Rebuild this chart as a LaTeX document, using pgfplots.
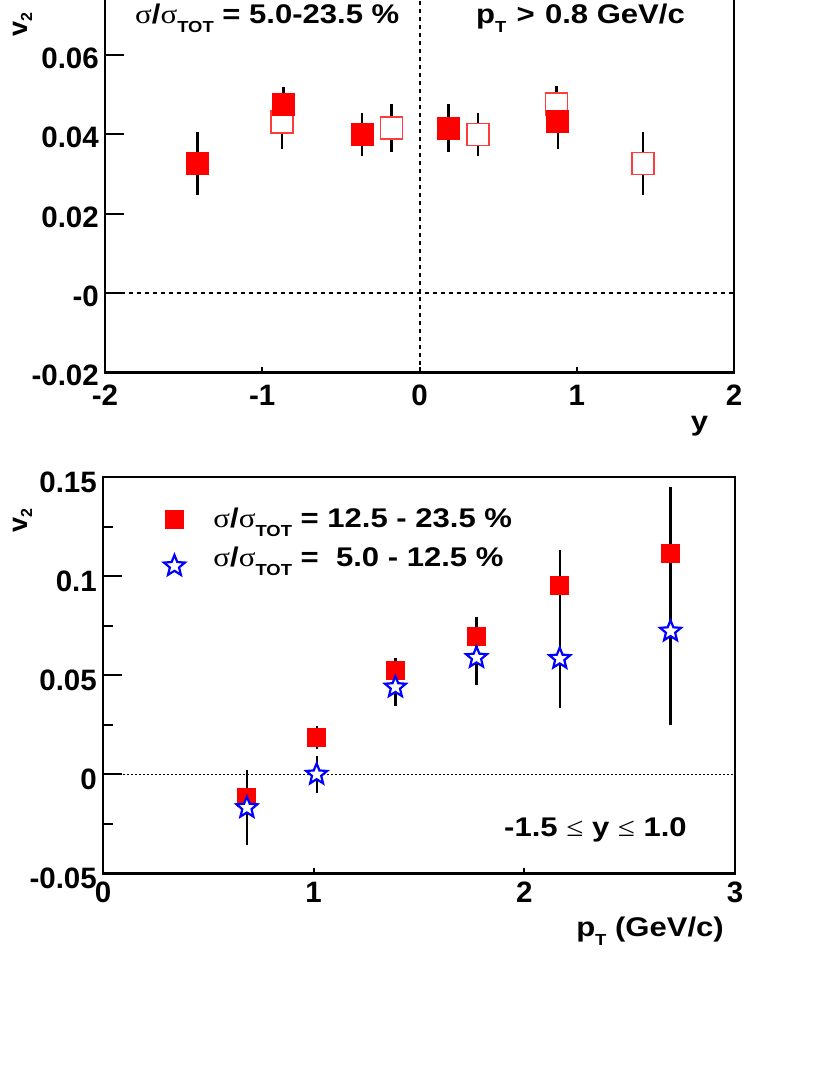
\documentclass[border=0pt]{standalone}
\usepackage{graphicx}
\usepackage{pgfplots}
\pgfplotsset{compat=1.18}
\usepackage{fontspec}
\setmainfont{Liberation Sans}
\newfontfamily\symf{Liberation Serif}
\newcommand\tk{\fontsize{29.5}{30}\selectfont\bfseries}
\newcommand\tx{\fontsize{27}{28}\selectfont\bfseries}
\newcommand\sg{{\symf\mdseries σ}}
\newcommand\lesym{{\symf\mdseries ≤}}
\newcommand\sub[2][9pt]{\raisebox{-#1}{\fontsize{16}{16}\selectfont\bfseries #2}}
\newcommand\wide[1]{\scalebox{1.15}[1]{#1}}
\definecolor{openred}{RGB}{255,60,60}
\pgfdeclareplotmark{ostar}{%
  \pgfpathmoveto{\pgfpointpolar{90}{\pgfplotmarksize}}%
  \pgfpathlineto{\pgfpointpolar{126}{0.44\pgfplotmarksize}}%
  \pgfpathlineto{\pgfpointpolar{162}{\pgfplotmarksize}}%
  \pgfpathlineto{\pgfpointpolar{198}{0.44\pgfplotmarksize}}%
  \pgfpathlineto{\pgfpointpolar{234}{\pgfplotmarksize}}%
  \pgfpathlineto{\pgfpointpolar{270}{0.44\pgfplotmarksize}}%
  \pgfpathlineto{\pgfpointpolar{306}{\pgfplotmarksize}}%
  \pgfpathlineto{\pgfpointpolar{342}{0.44\pgfplotmarksize}}%
  \pgfpathlineto{\pgfpointpolar{18}{\pgfplotmarksize}}%
  \pgfpathlineto{\pgfpointpolar{54}{0.44\pgfplotmarksize}}%
  \pgfpathclose
  \pgfusepathqfillstroke
}
\pgfplotsset{
  ebars/.style={/pgfplots/error bars/y dir=both, /pgfplots/error bars/y explicit,
    /pgfplots/error bars/error mark=none,
    /pgfplots/error bars/error bar style={line width=2.2pt, black}},
  legsq/.style={legend image code/.code={\path[draw=none,fill=none] (0pt,-19.5pt) rectangle (48pt,19.5pt);
    \draw[##1] plot coordinates {(9pt,8pt)};}},
  legst/.style={legend image code/.code={\path[draw=none,fill=none] (0pt,-19.5pt) rectangle (48pt,19.5pt);
    \draw[##1] plot coordinates {(9pt,1pt)};}},
}
\begin{document}
\begin{tikzpicture}
% ================= TOP PANEL =================
\begin{axis}[at={(105pt,702.3pt)}, anchor=south west, scale only axis,
  width=629pt, height=397pt,
  xmin=-2, xmax=2, ymin=-0.02, ymax=0.08,
  axis line style={line width=2.7pt},
  xtick=\empty,
  ytick={-0.02,0,0.02,0.04,0.06},
  yticklabels={-0.02,-0,0.02,0.04,0.06},
  ytick pos=left, tick align=inside,
  major tick length=19pt, major tick style={line width=2pt, black},
  yticklabel style={font=\tk, anchor=east, inner sep=0pt, xshift=-6pt, yshift=-3pt}]
\addplot[black, line width=2pt, dash pattern=on 4pt off 4pt, forget plot] coordinates {(-2,0) (2,0)};
\addplot[black, line width=2pt, dash pattern=on 4pt off 4pt, forget plot] coordinates {(0,-0.02) (0,0.08)};
% open (reflected) points
\addplot[only marks, mark=square*, mark size=11pt,
  mark options={draw=openred, fill=white, line width=1.8pt}, ebars]
  coordinates {(-0.872,0.0432) +- (0,0.0068) (-0.178,0.0416) +- (0,0.006)
    (0.370,0.0400) +- (0,0.0055) (0.871,0.0476) +- (0,0.0045) (1.420,0.0327) +- (0,0.008)};
% filled points
\addplot[only marks, mark=square*, mark size=11pt,
  mark options={draw=red, fill=red, line width=0pt}, ebars]
  coordinates {(-1.412,0.0327) +- (0,0.008) (-0.865,0.0475) +- (0,0.0045)
    (-0.365,0.0400) +- (0,0.0055) (0.184,0.0416) +- (0,0.006) (0.879,0.0432) +- (0,0.0068)};
\end{axis}
\begin{axis}[at={(105pt,702.3pt)}, anchor=south west, scale only axis,
  width=629pt, height=397pt,
  xmin=-2, xmax=2, ymin=-0.02, ymax=0.08,
  axis line style={draw=none}, ytick=\empty,
  xtick={-2,-1,0,1,2}, xticklabels={-2,-1,0,1,2},
  xtick pos=bottom, tick align=inside,
  major tick length=6pt, major tick style={line width=2pt, black},
  xticklabel style={font=\tk, anchor=north, inner sep=0pt, yshift=-12pt}]
\end{axis}
\node[anchor=base west, font=\tx, inner sep=0pt] at (135pt,1051pt) {\wide{\sg/\sg\sub{TOT} = 5.0-23.5 \%}};
\node[anchor=base west, font=\tx, inner sep=0pt] at (476pt,1051pt) {\wide{p\sub{T}\hspace{0.33em}{>}\hspace{0.33em}0.8 GeV/c}};
\node[anchor=base east, rotate=90, font=\tx, inner sep=0pt] at (27pt,1063pt) {v\sub[5pt]{2}};
\node[anchor=base, font=\tx, inner sep=0pt] at (699.5pt,644pt) {\wide{y}};
% ================= BOTTOM PANEL =================
\begin{axis}[at={(103pt,201.5pt)}, anchor=south west, scale only axis,
  width=632pt, height=396.5pt,
  xmin=0, xmax=3, ymin=-0.05, ymax=0.15,
  axis line style={line width=2.7pt},
  xtick=\empty,
  ytick={-0.05,0,0.05,0.1,0.15},
  yticklabels={-0.05,0,0.05,0.1,0.15},
  minor ytick={-0.025,0.025,0.075,0.125},
  ytick pos=left, tick align=inside,
  major tick length=19pt, minor tick length=10pt,
  major tick style={line width=2pt, black}, minor tick style={line width=2pt, black},
  yticklabel style={font=\tk, anchor=east, inner sep=0pt, xshift=-6pt, yshift=-5pt},
  legend style={at={(0.0965,0.9206)}, anchor=north west, draw=none, fill=none,
    inner sep=0pt, outer sep=0pt, row sep=0pt, column sep=0pt, font=\tx,
    nodes={inner sep=0pt, outer sep=0pt, text height=10pt, text depth=3pt},
    cells={anchor=base west}}]
\addplot[black, line width=1.6pt, dash pattern=on 2pt off 2pt, forget plot] coordinates {(0,0) (3,0)};
\addplot[forget plot, only marks, mark=square*, mark size=9pt,
  mark options={draw=red, fill=red, line width=0pt}, ebars]
  coordinates {(0.683,-0.0119) +- (0,0.014) (1.014,0.0186) +- (0,0.006)
    (1.388,0.0524) +- (0,0.0065) (1.773,0.0697) +- (0,0.0098)
    (2.168,0.0951) +- (0,0.0183) (2.694,0.1112) +- (0,0.0335)};
\addplot[forget plot, only marks, mark=ostar, mark size=11pt,
  mark options={draw=blue, fill=white, line width=2.2pt}, ebars]
  coordinates {(0.683,-0.0168) +- (0,0.0188) (1.014,0.0000) +- (0,0.0095)
    (1.388,0.0440) +- (0,0.0093) (1.773,0.0589) +- (0,0.0137)
    (2.168,0.0584) +- (0,0.025) (2.694,0.0722) +- (0,0.0473)};
\addlegendimage{only marks, mark=square*, mark size=9pt, mark options={draw=red, fill=red, line width=0pt}, legsq}
\addlegendentry{\wide{\sg/\sg\sub{TOT} = 12.5 - 23.5 \%}}
\addlegendimage{only marks, mark=ostar, mark size=11pt, mark options={draw=blue, fill=white, line width=2.2pt}, legst}
\addlegendentry{\wide{\sg/\sg\sub{TOT} = \ 5.0 - 12.5 \%}}
\end{axis}
\begin{axis}[at={(103pt,201.5pt)}, anchor=south west, scale only axis,
  width=632pt, height=396.5pt,
  xmin=0, xmax=3, ymin=-0.05, ymax=0.15,
  axis line style={draw=none}, ytick=\empty,
  xtick={0,1,2,3}, xticklabels={0,1,2,3},
  xtick pos=bottom, tick align=inside,
  major tick length=5pt, major tick style={line width=2pt, black},
  xticklabel style={font=\tk, anchor=north, inner sep=0pt, yshift=-8.5pt}]
\end{axis}
\node[anchor=base west, font=\tx, inner sep=0pt] at (504pt,238pt) {\wide{-1.5 \lesym{} y \lesym{} 1.0}};
\node[anchor=base east, font=\tx, inner sep=0pt] at (724pt,138pt) {\wide{p\sub{T} (GeV/c)}};
\node[anchor=base east, rotate=90, font=\tx, inner sep=0pt] at (27pt,567pt) {v\sub[5pt]{2}};
\pgfresetboundingbox
\path[use as bounding box] (0pt,0pt) rectangle (830pt,1075pt);
\end{tikzpicture}
\end{document}
